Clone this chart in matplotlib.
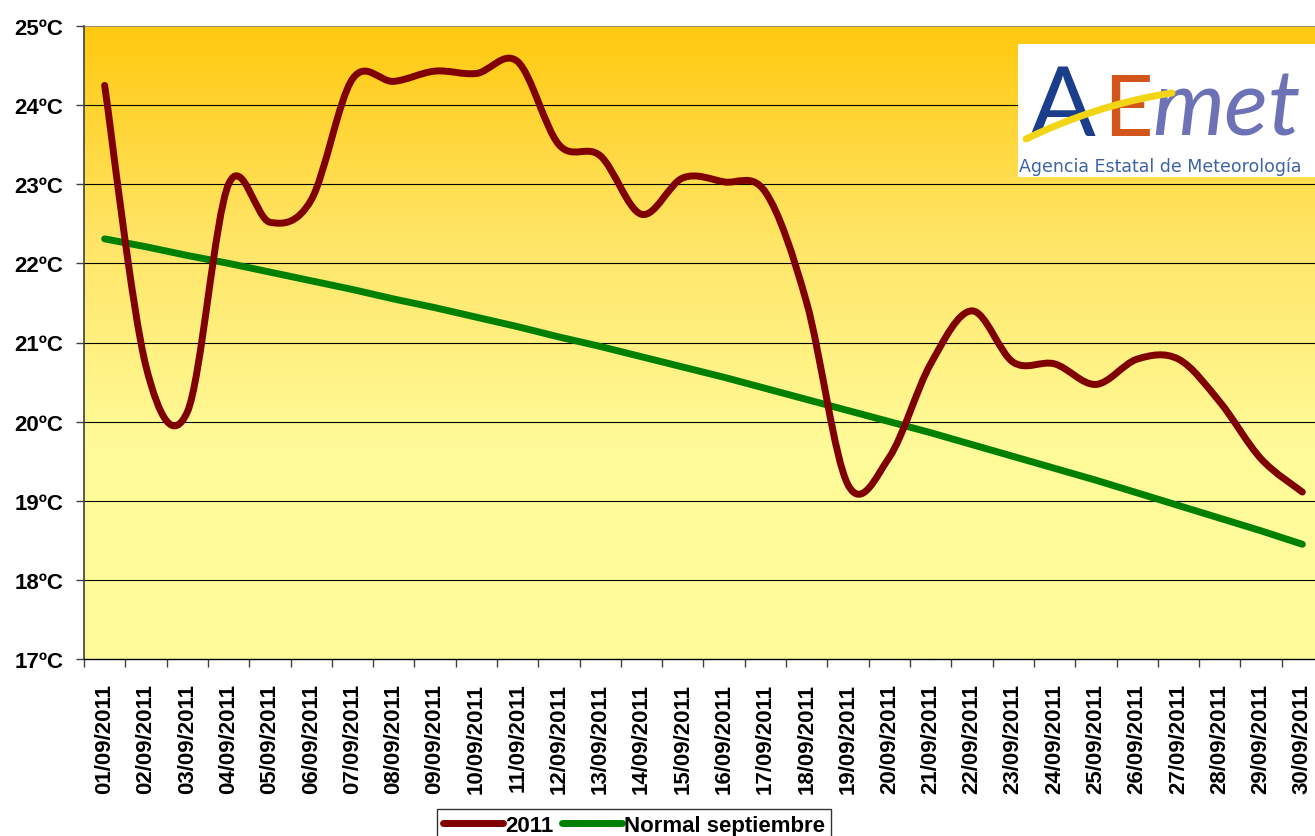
import numpy as np
import matplotlib
matplotlib.use("Agg")
import matplotlib.pyplot as plt
from matplotlib.path import Path
from matplotlib.patches import PathPatch, Rectangle
from matplotlib.lines import Line2D
from matplotlib.colors import LinearSegmentedColormap

plt.rcParams['font.family'] = ['Liberation Sans', 'DejaVu Sans']

dates = ["%02d/09/2011" % d for d in range(1, 31)]
temp_2011 = [24.25, 20.7, 20.12, 23.0, 22.52, 22.8, 24.33, 24.3, 24.43, 24.4,
             24.55, 23.5, 23.36, 22.62, 23.08, 23.03, 22.9, 21.5, 19.2, 19.55,
             20.73, 21.4, 20.75, 20.73, 20.47, 20.79, 20.79, 20.25, 19.53, 19.11]
normal_sep = [22.31, 22.21, 22.10, 22.00, 21.89, 21.78, 21.67, 21.55, 21.44, 21.32,
              21.20, 21.07, 20.95, 20.82, 20.69, 20.56, 20.42, 20.28, 20.14, 20.00,
              19.86, 19.71, 19.56, 19.41, 19.26, 19.10, 18.94, 18.78, 18.62, 18.45]
y_ticks = [17, 18, 19, 20, 21, 22, 23, 24, 25]
y_labels = ["%dºC" % v for v in y_ticks]

W, H = 1315, 837
fig = plt.figure(figsize=(W / 100, H / 100), dpi=100)
fig.patch.set_facecolor('white')

x0, x1, ytop, ybot = 84, 1323, 27, 660
ax = fig.add_axes([x0 / W, 1 - ybot / H, (x1 - x0) / W, (ybot - ytop) / H])

n = len(dates)
xs = np.arange(n)
ax.set_xlim(-0.5, n - 0.5)
ax.set_ylim(17, 25)

# gradient background
grad = np.linspace(0, 1, 256).reshape(-1, 1)
cmap = LinearSegmentedColormap.from_list('bg', ['#FFC90E', '#FFE566', '#FFFB99', '#FFFC9C'])
ax.imshow(grad, cmap=cmap, extent=[0, 1, 0, 1], transform=ax.transAxes,
          aspect='auto', origin='upper', zorder=0)

# grid
for v in y_ticks[1:-1]:
    ax.axhline(v, color='black', lw=0.8, zorder=1)
ax.axhline(25, color='#808080', lw=1.2, zorder=1)

# smoothed line (Excel-like Catmull-Rom bezier)
pts = np.column_stack([xs, temp_2011]).astype(float)
verts = [tuple(pts[0])]
codes = [Path.MOVETO]
for i in range(n - 1):
    p0 = pts[i - 1] if i > 0 else pts[i]
    p1 = pts[i]
    p2 = pts[i + 1]
    p3 = pts[i + 2] if i + 2 < n else pts[i + 1]
    c1 = p1 + (p2 - p0) / 6.0
    c2 = p2 - (p3 - p1) / 6.0
    verts += [tuple(c1), tuple(c2), tuple(p2)]
    codes += [Path.CURVE4] * 3
red = '#800000'
green = '#008000'
lw = 5.0
ax.add_patch(PathPatch(Path(verts, codes), facecolor='none', edgecolor=red,
                       lw=lw, capstyle='round', joinstyle='round', zorder=3))
ax.plot(xs, normal_sep, color=green, lw=lw, solid_capstyle='round', zorder=2)

# axes styling
ax.set_yticks(y_ticks)
ax.set_yticklabels(y_labels, fontsize=16, fontweight='bold')
ax.tick_params(axis='y', length=6, width=1, color='#404040', pad=9)
ax.set_xticks(xs)
ax.set_xticklabels(dates, rotation=90, fontsize=16, fontweight='bold')
ax.tick_params(axis='x', which='major', length=0, pad=17)
ax.set_xticks(np.arange(n + 1) - 0.5, minor=True)
ax.tick_params(axis='x', which='minor', length=6, width=1, color='#404040')
for s in ['top', 'right']:
    ax.spines[s].set_visible(False)
ax.spines['left'].set_color('#404040')
ax.spines['left'].set_linewidth(1.2)
ax.spines['bottom'].set_color('black')
ax.spines['bottom'].set_linewidth(1.0)

# legend
handles = [Line2D([], [], color=red, lw=lw, solid_capstyle='round'),
           Line2D([], [], color=green, lw=lw, solid_capstyle='round')]
leg = fig.legend(handles, ['2011', 'Normal septiembre'], loc='upper left',
                 bbox_to_anchor=(437 / W, 1 - 810 / H), ncol=2, frameon=True,
                 fancybox=False, prop={'size': 16, 'weight': 'bold'},
                 handlelength=2.7, handletextpad=0.1, columnspacing=0.4,
                 borderpad=0.25, borderaxespad=0)
leg.get_frame().set_edgecolor('black')
leg.get_frame().set_linewidth(1.0)

# AEMET logo (decorative)
lx0, ly0, lx1, ly1 = 1018, 45, 1315, 178
fig.add_artist(Rectangle((lx0 / W, 1 - ly1 / H), (lx1 - lx0) / W, (ly1 - ly0) / H,
                         transform=fig.transFigure, facecolor='white', edgecolor='none', zorder=5))
fig.text(1019 / W, 1 - 172 / H, 'Agencia Estatal de Meteorología', fontsize=12.5,
         family=['DejaVu Sans'], color='#3F63A6', va='baseline', ha='left', zorder=6)
fig.text(1030 / W, 1 - 136 / H, 'A', fontsize=70, color='#1B3E8C',
         family=['Lato', 'DejaVu Sans'], va='baseline', ha='left', zorder=6)
fig.text(1103 / W, 1 - 136 / H, 'E', fontsize=62, color='#D2561B',
         family=['Lato', 'DejaVu Sans'], va='baseline', ha='left', zorder=6)
fig.text(1152 / W, 1 - 136 / H, 'met', fontsize=66, color='#6C72B5',
         style='italic', family=['Lato', 'DejaVu Sans'], va='baseline', ha='left', zorder=6)
t = np.linspace(0, 1, 40)
sx = 1026 + 146 * t
sy = 140 - 70 * t + 24 * t ** 2
fig.add_artist(Line2D(sx / W, 1 - sy / H, transform=fig.transFigure, color='#F2D515',
                      lw=5, solid_capstyle='round', zorder=7))

fig.savefig('out.png', dpi=100)
